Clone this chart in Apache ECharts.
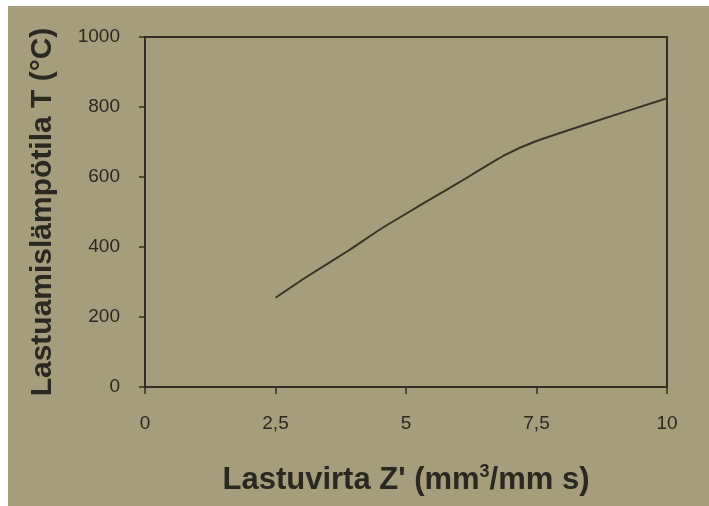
<!DOCTYPE html>
<html>
<head>
<meta charset="utf-8">
<script src="https://cdn.jsdelivr.net/npm/echarts@6/dist/echarts.min.js"></script>
<style>
html,body{margin:0;padding:0;background:#ffffff;}
#c{width:709px;height:506px;}
</style>
</head>
<body>
<div id="c"></div>
<script>
var xValues = [2.5, 3.1, 3.9, 4.5, 5.0, 5.6, 6.0, 6.9, 7.45, 8.5, 10];
var yValues = [255, 315, 390, 450, 495, 548, 583, 663, 700, 753, 825];
var xTicks = [0, 2.5, 5, 7.5, 10];
var yTicks = [0, 200, 400, 600, 800, 1000];
var xName = "Lastuvirta Z' (mm{sup|3}/mm s)";
var yName = "Lastuamislämpötila T (°C)";

var ink = '#2b2820';
var font = 'Liberation Sans, Arial, sans-serif';

var chart = echarts.init(document.getElementById('c'), null, {renderer: 'canvas'});
chart.setOption({
  backgroundColor: '#a59d7c',
  animation: false,
  graphic: [
    {type: 'rect', shape: {x: 0, y: 0, width: 709, height: 6}, style: {fill: '#ffffff'}, silent: true},
    {type: 'rect', shape: {x: 0, y: 0, width: 8, height: 506}, style: {fill: '#ffffff'}, silent: true}
  ],
  grid: {
    left: 145, top: 37, right: 42, bottom: 119,
    show: true, borderColor: '#332e22', borderWidth: 2, backgroundColor: 'transparent'
  },
  xAxis: {
    type: 'value', min: xTicks[0], max: xTicks[xTicks.length - 1], interval: 2.5,
    name: xName, nameLocation: 'middle', nameGap: 76,
    nameTextStyle: {
      fontFamily: font, fontSize: 31, fontWeight: 'bold', color: ink,
      rich: {sup: {fontFamily: font, fontSize: 18, fontWeight: 'bold', color: ink, verticalAlign: 'top', padding: [0, 0, 17, 0]}}
    },
    axisLine: {show: true, lineStyle: {color: '#332e22', width: 2}},
    axisTick: {show: true, inside: false, length: 7, lineStyle: {color: '#332e22', width: 1.5}},
    axisLabel: {
      margin: 27, fontFamily: font, fontSize: 19, color: ink,
      formatter: function (v) { return String(v).replace('.', ','); }
    },
    splitLine: {show: false}
  },
  yAxis: {
    type: 'value', min: yTicks[0], max: yTicks[yTicks.length - 1], interval: 200,
    name: yName, nameLocation: 'middle', nameGap: 87, nameRotate: 90,
    nameTextStyle: {fontFamily: font, fontSize: 30, fontWeight: 'bold', color: ink},
    axisLine: {show: true, lineStyle: {color: '#332e22', width: 2}},
    axisTick: {show: true, inside: false, length: 6, lineStyle: {color: '#332e22', width: 1.5}},
    axisLabel: {
      margin: 25, fontFamily: font, fontSize: 19, color: ink,
      formatter: function (v) { return String(v); }
    },
    splitLine: {show: false}
  },
  series: [{
    type: 'line',
    data: xValues.map(function (x, i) { return [x, yValues[i]]; }),
    showSymbol: false,
    smooth: 0.2,
    lineStyle: {color: '#3a3426', width: 2}
  }]
});
</script>
</body>
</html>
